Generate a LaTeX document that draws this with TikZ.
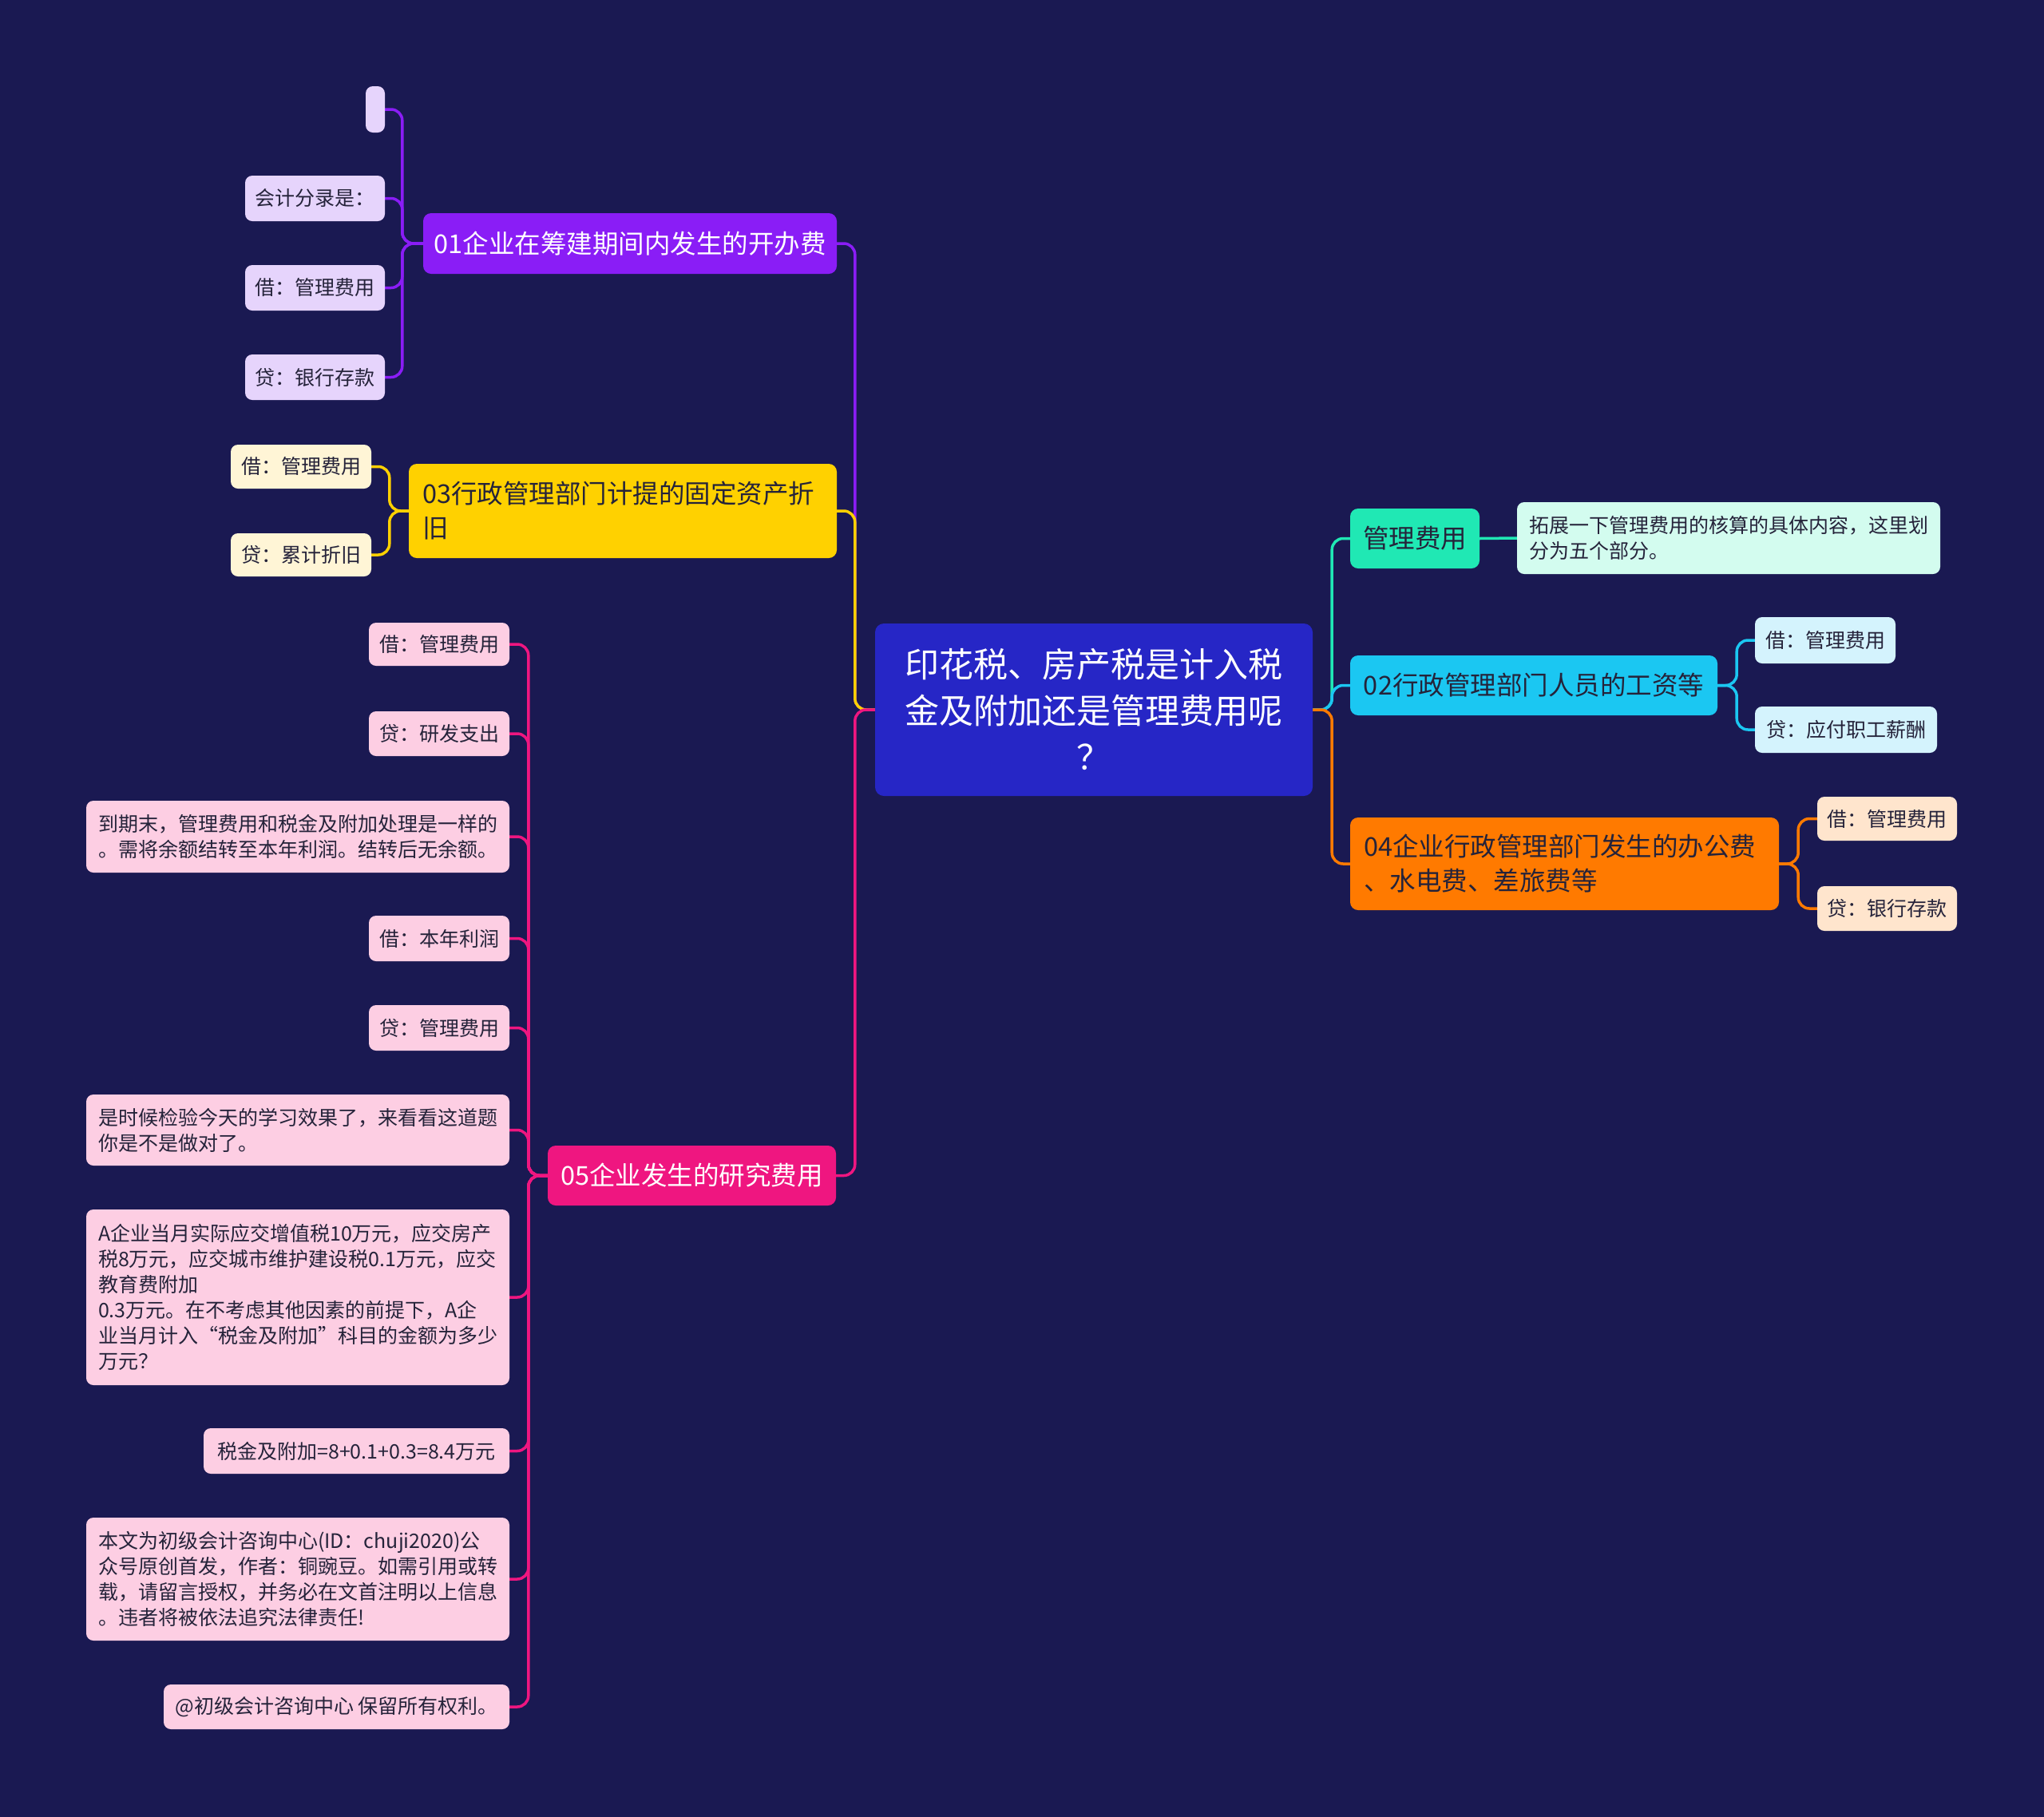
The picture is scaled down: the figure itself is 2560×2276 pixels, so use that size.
\documentclass[tikz,border=0pt]{standalone}
\usepackage{fontspec}
\setmainfont{Noto Sans CJK SC}
\pgfdeclarelayer{back}
\pgfdeclarelayer{conns}
\pgfsetlayers{back,conns,main}
\definecolor{bgc}{HTML}{1A1952}
\definecolor{cCenter}{HTML}{2626C6}
\definecolor{cPur}{HTML}{8A1DF6}
\definecolor{cPurL}{HTML}{E6D4FC}
\definecolor{cYel}{HTML}{FFD100}
\definecolor{cYelL}{HTML}{FFF5D6}
\definecolor{cPink}{HTML}{EF1680}
\definecolor{cPinkL}{HTML}{FDCEE3}
\definecolor{cTeal}{HTML}{20E8B4}
\definecolor{cTealL}{HTML}{D3FCEF}
\definecolor{cCyan}{HTML}{1BC7F2}
\definecolor{cCyanL}{HTML}{D4F3FD}
\definecolor{cOra}{HTML}{FF7A00}
\definecolor{cOraL}{HTML}{FFE5CD}
\definecolor{dtext}{HTML}{25233A}
\tikzset{
  box/.style={rectangle, rounded corners=9pt, inner sep=0pt, align=left},
  centerbox/.style={box, rounded corners=11pt, fill=cCenter, text=white, align=center, font=\fontsize{43}{58}\selectfont},
  mainbox/.style={box, rounded corners=10pt, font=\fontsize{32.5}{43}\selectfont},
  leafbox/.style={box, text=dtext, font=\fontsize{25}{32}\selectfont},
  conn/.style={line width=3.5pt, rounded corners=14pt}
}
\newcommand\mknode[7]{\node[#2, minimum width={#5-#3}, minimum height={#6-#4}] (#1) at ({(#3+#5)/2},{(#4+#6)/2}) {#7};}
\begin{document}
\begin{tikzpicture}[x=1pt,y=-1pt]
\begin{pgfonlayer}{back}
\fill[bgc] (0,0) rectangle (2560,2276);
\end{pgfonlayer}
\useasboundingbox (0,0) rectangle (2560,2276);
% center
\mknode{ctr}{centerbox}{1096}{781}{1644}{997}{印花税、房产税是计入税\\金及附加还是管理费用呢\\？}
% main branches
\mknode{m01}{mainbox,fill=cPur,text=white}{530}{267}{1048}{343}{01企业在筹建期间内发生的开办费}
\mknode{m03}{mainbox,fill=cYel,text=dtext,text width=502pt}{512}{581}{1048}{699}{03行政管理部门计提的固定资产折\\旧}
\mknode{m05}{mainbox,fill=cPink,text=white}{686}{1435}{1047}{1510}{05企业发生的研究费用}
\mknode{mGL}{mainbox,fill=cTeal,text=dtext}{1691}{637}{1853}{712}{管理费用}
\mknode{m02}{mainbox,fill=cCyan,text=dtext}{1691}{821}{2151}{896}{02行政管理部门人员的工资等}
\mknode{m04}{mainbox,fill=cOra,text=dtext,text width=503pt}{1691}{1024}{2228}{1140}{04企业行政管理部门发生的办公费\\、水电费、差旅费等}
% 01 leaves
\mknode{a1}{leafbox,fill=cPurL}{458}{108}{482}{166}{}
\mknode{a2}{leafbox,fill=cPurL}{307}{220}{482}{277}{会计分录是：}
\mknode{a3}{leafbox,fill=cPurL}{307}{332}{482}{389}{借：管理费用}
\mknode{a4}{leafbox,fill=cPurL}{307}{444}{482}{501}{贷：银行存款}
% 03 leaves
\mknode{b1}{leafbox,fill=cYelL}{289}{557}{465}{612}{借：管理费用}
\mknode{b2}{leafbox,fill=cYelL}{289}{668}{465}{722}{贷：累计折旧}
% 05 leaves
\mknode{c1}{leafbox,fill=cPinkL}{462}{780}{638}{834}{借：管理费用}
\mknode{c2}{leafbox,fill=cPinkL}{462}{891}{638}{947}{贷：研发支出}
\mknode{c3}{leafbox,fill=cPinkL}{108}{1003}{638}{1093}{到期末，管理费用和税金及附加处理是一样的\\。需将余额结转至本年利润。结转后无余额。}
\mknode{c4}{leafbox,fill=cPinkL}{462}{1147}{638}{1204}{借：本年利润}
\mknode{c5}{leafbox,fill=cPinkL}{462}{1259}{638}{1316}{贷：管理费用}
\mknode{c6}{leafbox,fill=cPinkL}{108}{1371}{638}{1460}{是时候检验今天的学习效果了，来看看这道题\\你是不是做对了。}
\mknode{c7}{leafbox,fill=cPinkL}{108}{1515}{638}{1735}{A企业当月实际应交增值税10万元，应交房产\\税8万元，应交城市维护建设税0.1万元，应交\\教育费附加\\0.3万元。在不考虑其他因素的前提下，A企\\业当月计入“税金及附加”科目的金额为多少\\万元？}
\mknode{c8}{leafbox,fill=cPinkL}{255}{1789}{638}{1846}{税金及附加=8+0.1+0.3=8.4万元}
\mknode{c9}{leafbox,fill=cPinkL}{108}{1901}{638}{2055}{本文为初级会计咨询中心(ID：chuji2020)公\\众号原创首发，作者：铜豌豆。如需引用或转\\载，请留言授权，并务必在文首注明以上信息\\。违者将被依法追究法律责任!}
\mknode{c10}{leafbox,fill=cPinkL}{205}{2110}{638}{2166}{@初级会计咨询中心 保留所有权利。}
% right leaves
\mknode{d1}{leafbox,fill=cTealL}{1900}{629}{2430}{719}{拓展一下管理费用的核算的具体内容，这里划\\分为五个部分。}
\mknode{e1}{leafbox,fill=cCyanL}{2198}{773}{2374}{831}{借：管理费用}
\mknode{e2}{leafbox,fill=cCyanL}{2198}{885}{2426}{943}{贷：应付职工薪酬}
\mknode{f1}{leafbox,fill=cOraL}{2276}{998}{2451}{1053}{借：管理费用}
\mknode{f2}{leafbox,fill=cOraL}{2276}{1110}{2451}{1166}{贷：银行存款}
% connectors
\begin{pgfonlayer}{conns}
\draw[conn,cPur] (ctr.west) -- ++(-25,0) |- (m01.east);
\draw[conn,cYel] (ctr.west) -- ++(-25,0) |- (m03.east);
\draw[conn,cPink] (ctr.west) -- ++(-25,0) |- (m05.east);
\draw[conn,cTeal] (ctr.east) -- ++(24,0) |- (mGL.west);
\draw[conn,cCyan] (ctr.east) -- ++(24,0) |- (m02.west);
\draw[conn,cOra] (ctr.east) -- ++(24,0) |- (m04.west);
\foreach \n in {a1,a2,a3,a4}{\draw[conn,cPur] (m01.west) -- ++(-26,0) |- (\n.east);}
\foreach \n in {b1,b2}{\draw[conn,cYel] (m03.west) -- ++(-24,0) |- (\n.east);}
\foreach \n in {c1,c2,c3,c4,c5,c6,c7,c8,c9,c10}{\draw[conn,cPink] (m05.west) -- ++(-24,0) |- (\n.east);}
\draw[conn,cTeal] (mGL.east) -- (d1.west);
\foreach \n in {e1,e2}{\draw[conn,cCyan] (m02.east) -- ++(24,0) |- (\n.west);}
\foreach \n in {f1,f2}{\draw[conn,cOra] (m04.east) -- ++(24,0) |- (\n.west);}
\end{pgfonlayer}
\end{tikzpicture}
\end{document}
